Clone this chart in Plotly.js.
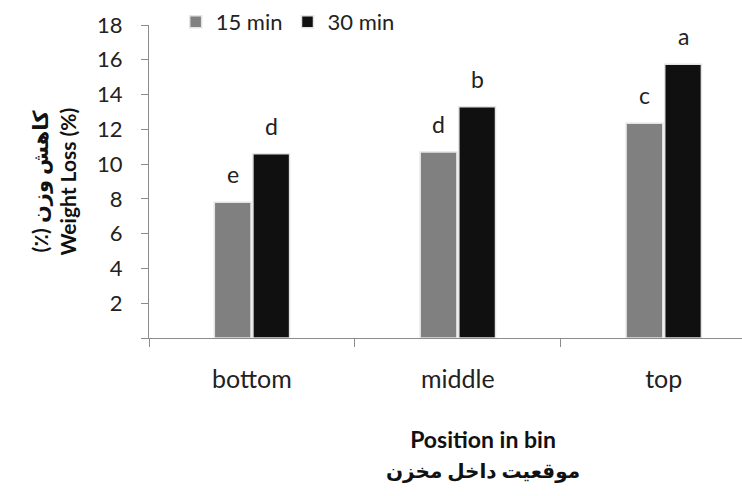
<!DOCTYPE html>
<html><head><meta charset="utf-8">
<script src="https://cdn.plot.ly/plotly-3.0.1.min.js"></script>
<style>html,body{margin:0;padding:0;background:#fff}</style>
</head><body><div id="chart" style="width:742px;height:496px"></div>
<script>
const categories = ['bottom', 'middle', 'top'];
const series15 = [7.8, 10.7, 12.35];
const series30 = [10.6, 13.3, 15.75];
const letters15 = ['e', 'd', 'c'];
const letters30 = ['d', 'b', 'a'];
const yTickVals = [0, 2, 4, 6, 8, 10, 12, 14, 16, 18];
const yTickText = ['', '2', '4', '6', '8', '10', '12', '14', '16', '18'];

const FONT = 'Lato, "Open Sans", "DejaVu Sans", sans-serif';
const outline = {color: '#e4e4e4', width: 1.5};

const traces = [
  {type: 'bar', name: '15 min', x: categories, y: series15,
   marker: {color: '#808080', line: outline}},
  {type: 'bar', name: '30 min', x: categories, y: series30,
   marker: {color: '#101010', line: outline}}
];

const annotations = [];
categories.forEach((c, i) => {
  annotations.push({x: c, y: series15[i], xref: 'x', yref: 'y', text: letters15[i],
    showarrow: false, xshift: -19, yshift: 12, yanchor: 'bottom',
    font: {family: FONT, size: 23, color: '#222'}});
  annotations.push({x: c, y: series30[i], xref: 'x', yref: 'y', text: letters30[i],
    showarrow: false, xshift: 20, yshift: 12, yanchor: 'bottom',
    font: {family: FONT, size: 23, color: '#222'}});
});
annotations.push({xref: 'paper', yref: 'paper', x: 0.563, y: -0.27, yanchor: 'top',
  text: 'Position in bin<br><span style="font-size:20px">موقعیت داخل مخزن</span>', showarrow: false,
  font: {family: FONT, size: 23, color: '#111', weight: 'bold'}});
annotations.push({xref: 'paper', yref: 'paper', x: -0.162, y: 0.5, xanchor: 'center',
  textangle: -90,
  text: '\u200Fکاهش وزن (٪)\u200F<br>Weight Loss (%)', showarrow: false,
  font: {family: FONT, size: 21, color: '#111', weight: 'bold'}});

const layout = {
  width: 742, height: 496,
  margin: {l: 149, r: 0, t: 25, b: 158},
  paper_bgcolor: '#fff', plot_bgcolor: '#fff',
  barmode: 'group', bargap: 0.625, bargroupgap: 0.05,
  showlegend: true,
  legend: {orientation: 'h', x: 0.045, xanchor: 'left', y: 1.01, yanchor: 'middle',
    font: {family: FONT, size: 22, color: '#222'}, itemwidth: 30, tracegroupgap: 0},
  xaxis: {type: 'category', range: [-0.5, 2.38], showline: true, linecolor: '#8c8c8c',
    linewidth: 1, ticks: 'outside', tickson: 'boundaries', ticklen: 8, tickcolor: '#8c8c8c',
    ticklabelstandoff: 19, showgrid: false, zeroline: false,
    tickfont: {family: FONT, size: 25, color: '#222'}},
  yaxis: {range: [0, 18], tickvals: yTickVals, ticktext: yTickText, showline: true,
    linecolor: '#8c8c8c', linewidth: 1, ticks: 'outside', ticklen: 7, tickcolor: '#8c8c8c',
    ticklabelstandoff: 14, showgrid: false, zeroline: false,
    tickfont: {family: FONT, size: 22, color: '#222'}},
  annotations: annotations
};

Plotly.newPlot('chart', traces, layout, {displayModeBar: false, staticPlot: true});
</script></body></html>
